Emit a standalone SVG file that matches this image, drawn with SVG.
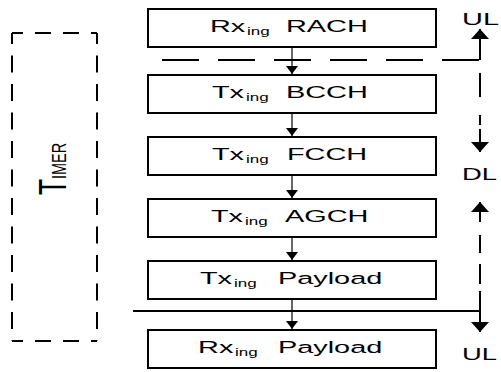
<svg xmlns="http://www.w3.org/2000/svg" width="501" height="372" viewBox="0 0 501 372">
<style>
.box{fill:#fff;stroke:#000;stroke-width:2}
.lbl{font-family:"Liberation Sans",Arial,sans-serif;font-size:17px;fill:#000}
.sub{font-size:10px}
.flow{stroke:#000;stroke-width:1.2;fill:none;marker-end:url(#ah)}
.dir{stroke:#000;stroke-width:2;fill:none}
.dirA{stroke:#000;stroke-width:2;fill:none;marker-end:url(#ahB)}
.tb{stroke:#000;stroke-width:2;fill:none}
</style>
<defs>
<marker id="ah" viewBox="0 0 8 12" refX="8" refY="6" markerWidth="8" markerHeight="12" orient="auto" markerUnits="userSpaceOnUse"><path d="M0,0 L8,6 L0,12 z" fill="#000"/></marker>
<marker id="ahB" viewBox="0 0 10 18" refX="10" refY="9" markerWidth="10" markerHeight="18" orient="auto" markerUnits="userSpaceOnUse"><path d="M0,0 L10,9 L0,18 z" fill="#000"/></marker>
</defs>
<rect width="501" height="372" fill="#fff"/>

<g id="timer">
<line class="tb" x1="12" y1="33" x2="97" y2="33" stroke-dasharray="16 12" stroke-dashoffset="5"/>
<line class="tb" x1="12" y1="341" x2="97" y2="341" stroke-dasharray="16 12" stroke-dashoffset="5"/>
<line class="tb" x1="12" y1="33" x2="12" y2="341" stroke-dasharray="17 11.5" stroke-dashoffset="6"/>
<line class="tb" x1="97" y1="33" x2="97" y2="341" stroke-dasharray="17 11.5" stroke-dashoffset="6"/>
<text class="lbl" transform="translate(66,195) rotate(-90) scale(0.69,1)"><tspan font-size="38">T</tspan><tspan font-size="21">IMER</tspan></text>
</g>

<g id="connectors">
<line class="flow" x1="292" y1="48" x2="292" y2="74"/>
<line class="flow" x1="292" y1="114" x2="292" y2="136"/>
<line class="flow" x1="292" y1="176" x2="292" y2="198"/>
<line class="flow" x1="292" y1="238" x2="292" y2="260"/>
<line class="flow" x1="292" y1="300" x2="292" y2="329"/>
<line class="dir" x1="162" y1="60" x2="480" y2="60" stroke-dasharray="37 19"/>
<line class="dir" x1="133" y1="311" x2="480" y2="311"/>
<line class="dirA" x1="480" y1="60" x2="480" y2="29"/>
<line class="dir" x1="480" y1="73" x2="480" y2="97"/>
<line class="dir" x1="480" y1="115" x2="480" y2="125"/>
<line class="dirA" x1="480" y1="129" x2="480" y2="152"/>
<line class="dirA" x1="480" y1="222" x2="480" y2="202"/>
<line class="dir" x1="480" y1="235" x2="480" y2="253"/>
<line class="dir" x1="480" y1="264" x2="480" y2="284"/>
<line class="dir" x1="480" y1="291" x2="480" y2="311"/>
<line class="dirA" x1="480" y1="311" x2="480" y2="332"/>
</g>

<g id="rx-rach">
<rect class="box" x="148" y="9" width="288" height="38"/>
<text class="lbl" transform="scale(1.7,1)" y="32"><tspan x="123.5">Rx</tspan><tspan class="sub" x="145.3" dy="3">ing</tspan><tspan x="168.2" dy="-3">RACH</tspan></text>
</g>
<g id="tx-bcch">
<rect class="box" x="148" y="75" width="288" height="38"/>
<text class="lbl" transform="scale(1.7,1)" y="98"><tspan x="124.7">Tx</tspan><tspan class="sub" x="144.7" dy="3">ing</tspan><tspan x="168.2" dy="-3">BCCH</tspan></text>
</g>
<g id="tx-fcch">
<rect class="box" x="148" y="137" width="288" height="38"/>
<text class="lbl" transform="scale(1.7,1)" y="160"><tspan x="124.7">Tx</tspan><tspan class="sub" x="144.7" dy="3">ing</tspan><tspan x="168.8" dy="-3">FCCH</tspan></text>
</g>
<g id="tx-agch">
<rect class="box" x="148" y="199" width="288" height="38"/>
<text class="lbl" transform="scale(1.7,1)" y="222"><tspan x="124.1">Tx</tspan><tspan class="sub" x="144.1" dy="3">ing</tspan><tspan x="167.6" dy="-3">AGCH</tspan></text>
</g>
<g id="tx-payload">
<rect class="box" x="148" y="261" width="288" height="38"/>
<text class="lbl" transform="scale(1.7,1)" y="284"><tspan x="117.6">Tx</tspan><tspan class="sub" x="137.6" dy="3">ing</tspan><tspan x="163.5" dy="-3">Payload</tspan></text>
</g>
<g id="rx-payload">
<rect class="box" x="148" y="330" width="288" height="38"/>
<text class="lbl" transform="scale(1.7,1)" y="353"><tspan x="116.5">Rx</tspan><tspan class="sub" x="138.2" dy="3">ing</tspan><tspan x="163.5" dy="-3">Payload</tspan></text>
</g>

<g id="labels">
<text class="lbl" x="462" y="25" textLength="37" lengthAdjust="spacingAndGlyphs">UL</text>
<text class="lbl" x="462" y="180" textLength="35" lengthAdjust="spacingAndGlyphs">DL</text>
<text class="lbl" x="462" y="360" textLength="35" lengthAdjust="spacingAndGlyphs">UL</text>
</g>
</svg>
